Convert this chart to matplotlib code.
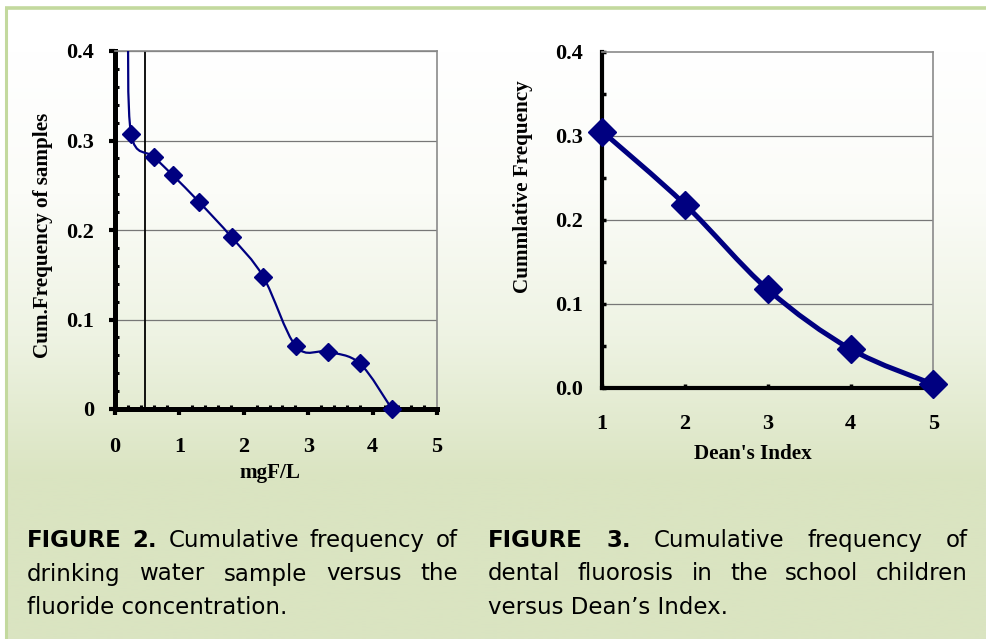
import numpy as np
import matplotlib
matplotlib.use("Agg")
import matplotlib.pyplot as plt
from matplotlib.path import Path
from matplotlib.patches import PathPatch
from matplotlib.ticker import MultipleLocator
from matplotlib.colors import LinearSegmentedColormap

# ---------------- data ----------------
conc_mg = [0.20, 0.25, 0.60, 0.90, 1.31, 1.81, 2.30, 2.81, 3.30, 3.80, 4.30]
cum_freq_samples = [0.44, 0.307, 0.282, 0.261, 0.231, 0.192, 0.148, 0.070, 0.064, 0.051, 0.0]
limit_line_x = 0.47

dean_index = [1, 2, 3, 4, 5]
cum_freq_dean = [0.305, 0.218, 0.117, 0.046, 0.004]

left_yticks = [0, 0.1, 0.2, 0.3, 0.4]
left_yticklabels = ["0", "0.1", "0.2", "0.3", "0.4"]
left_xticks = [0, 1, 2, 3, 4, 5]
right_yticks = [0.0, 0.1, 0.2, 0.3, 0.4]
right_yticklabels = ["0.0", "0.1", "0.2", "0.3", "0.4"]
right_xticks = [1, 2, 3, 4, 5]

caption_left = [
    [("FIGURE", "bold"), ("2.", "bold"), ("Cumulative", "normal"), ("frequency", "normal"), ("of", "normal")],
    [("drinking", "normal"), ("water", "normal"), ("sample", "normal"), ("versus", "normal"), ("the", "normal")],
    [("fluoride concentration.", "normal")],
]
caption_right = [
    [("FIGURE", "bold"), ("3.", "bold"), ("Cumulative", "normal"), ("frequency", "normal"), ("of", "normal")],
    [("dental", "normal"), ("fluorosis", "normal"), ("in", "normal"), ("the", "normal"), ("school", "normal"), ("children", "normal")],
    [("versus Dean\u2019s Index.", "normal")],
]

NAVY = "#000080"
W, H = 987, 639
SERIF = "Liberation Serif"
TICK_FS = 16
LABEL_FS = 15.2

fig = plt.figure(figsize=(W / 100, H / 100), dpi=100)

# ---------------- background ----------------
bg = fig.add_axes([0, 0, 1, 1])
bg.set_xlim(0, W)
bg.set_ylim(H, 0)
bg.axis("off")
cmap = LinearSegmentedColormap.from_list("bgc", ["#ffffff", "#fbfcf8", "#eef3e3", "#dae4c1"])
ys = np.linspace(0, 1, 400)
grad = np.clip((ys * H - 50) / 430, 0, 1)[:, None]
bg.imshow(grad, cmap=cmap, extent=[0, W, H, 0], aspect="auto", vmin=0, vmax=1, zorder=0)
bg.add_patch(plt.Rectangle((0, 0), 5, H, color="white", zorder=1))
bg.add_patch(plt.Rectangle((0, 0), W, 7, color="white", zorder=1))
bg.plot([6, 6], [8, H], color="#c3d99e", lw=2.2, zorder=2, solid_capstyle="butt")
bg.plot([5, W], [8, 8], color="#c3d99e", lw=2.6, zorder=2, solid_capstyle="butt")


def excel_smooth(x, y):
    pts = np.column_stack([x, y]).astype(float)
    n = len(pts)
    verts = [pts[0]]
    codes = [Path.MOVETO]
    for i in range(n - 1):
        p0 = pts[i - 1] if i > 0 else pts[i]
        p1 = pts[i]
        p2 = pts[i + 1]
        p3 = pts[i + 2] if i + 2 < n else pts[i + 1]
        c1 = p1 + (p2 - p0) / 6.0
        c2 = p2 - (p3 - p1) / 6.0
        verts += [c1, c2, p2]
        codes += [Path.CURVE4] * 3
    return Path(verts, codes)


def style_frame(ax, thick):
    for s in ["left", "bottom"]:
        ax.spines[s].set_linewidth(thick)
        ax.spines[s].set_color("black")
        ax.spines[s].set_capstyle("projecting")
    for s in ["top", "right"]:
        ax.spines[s].set_linewidth(1.2)
        ax.spines[s].set_color("#8a8a8a")
    ax.patch.set_alpha(0)


def style_ticklabels(ax):
    for lab in ax.get_xticklabels() + ax.get_yticklabels():
        lab.set_fontfamily(SERIF)
        lab.set_fontweight("bold")
        lab.set_fontsize(TICK_FS)


# ---------------- left chart ----------------
ax1 = fig.add_axes([115 / W, 1 - 409 / H, 322 / W, 358 / H])
style_frame(ax1, 3.6)
ax1.set_xlim(0, 5)
ax1.set_ylim(0, 0.4)
for v in left_yticks[1:]:
    ax1.axhline(v, color="#777777", lw=0.9, zorder=1)
ax1.axvline(limit_line_x, color="black", lw=1.3, zorder=2)
patch = PathPatch(excel_smooth(conc_mg, cum_freq_samples), facecolor="none", edgecolor=NAVY, lw=1.6, zorder=3)
ax1.add_patch(patch)
ax1.plot(conc_mg[1:], cum_freq_samples[1:], linestyle="none", marker="D", ms=9.5, color=NAVY,
         clip_on=False, zorder=4)
ax1.set_xticks(left_xticks)
ax1.set_yticks(left_yticks)
ax1.set_yticklabels(left_yticklabels)
ax1.xaxis.set_minor_locator(MultipleLocator(0.2))
ax1.yaxis.set_minor_locator(MultipleLocator(0.02))
ax1.tick_params(which="major", direction="out", length=4, width=3, color="black")
ax1.tick_params(axis="y", which="major", pad=11)
ax1.tick_params(axis="x", which="major", pad=16)
ax1.tick_params(which="minor", direction="in", length=3, width=2.2, color="black")
style_ticklabels(ax1)
ax1.set_xlabel("mgF/L", family=SERIF, weight="bold", fontsize=LABEL_FS)
ax1.set_ylabel("Cum.Frequency of samples", family=SERIF, weight="bold", fontsize=LABEL_FS)
ax1.xaxis.set_label_coords(0.481, -0.151)
ax1.yaxis.set_label_coords(-0.1925, 0.486)

# ---------------- right chart ----------------
ax2 = fig.add_axes([602.3 / W, 1 - 387.7 / H, 331 / W, 336 / H])
style_frame(ax2, 3.0)
ax2.set_xlim(1, 5)
ax2.set_ylim(0, 0.4)
for v in right_yticks[1:-1]:
    ax2.axhline(v, color="#777777", lw=0.9, zorder=1)
patch2 = PathPatch(excel_smooth(dean_index, cum_freq_dean), facecolor="none", edgecolor=NAVY, lw=3.6, zorder=3)
ax2.add_patch(patch2)
ax2.plot(dean_index, cum_freq_dean, linestyle="none", marker="D", ms=14, color=NAVY, clip_on=False, zorder=4)
ax2.set_xticks(right_xticks)
ax2.set_yticks(right_yticks)
ax2.set_yticklabels(right_yticklabels)
ax2.yaxis.set_minor_locator(MultipleLocator(0.05))
ax2.tick_params(which="both", direction="in", length=3, width=2.5, color="black")
ax2.tick_params(axis="y", which="major", pad=14)
ax2.tick_params(axis="x", which="major", pad=19)
style_ticklabels(ax2)
ax2.set_xlabel("Dean's Index", family=SERIF, weight="bold", fontsize=LABEL_FS)
ax2.set_ylabel("Cummlative Frequency", family=SERIF, weight="bold", fontsize=LABEL_FS)
ax2.xaxis.set_label_coords(0.455, -0.1676)
ax2.yaxis.set_label_coords(-0.2085, 0.597)

# ---------------- captions (justified) ----------------
CAP_FONT = "DejaVu Sans"
CAP_SIZE = 16.5
renderer = fig.canvas.get_renderer()


def draw_caption(lines, x0, x1, baselines):
    for li, (words, yb) in enumerate(zip(lines, baselines)):
        yf = 1 - yb / H
        last = li == len(lines) - 1
        if last or len(words) == 1:
            fig.text(x0 / W, yf, " ".join(w for w, _ in words), family=CAP_FONT, fontsize=CAP_SIZE,
                     weight=words[0][1], va="baseline", ha="left")
            continue
        texts = []
        widths = []
        for w, wt in words:
            t = fig.text(0, yf, w, family=CAP_FONT, fontsize=CAP_SIZE, weight=wt, va="baseline", ha="left")
            texts.append(t)
            widths.append(t.get_window_extent(renderer).width)
        gap = ((x1 - x0) - sum(widths)) / (len(words) - 1)
        x = x0
        for t, wd in zip(texts, widths):
            t.set_x(x / W)
            x += wd + gap


baselines = [546.7, 580.5, 614]
draw_caption(caption_left, 27, 458, baselines)
draw_caption(caption_right, 488, 968, baselines)

fig.savefig("out.png", dpi=100)
